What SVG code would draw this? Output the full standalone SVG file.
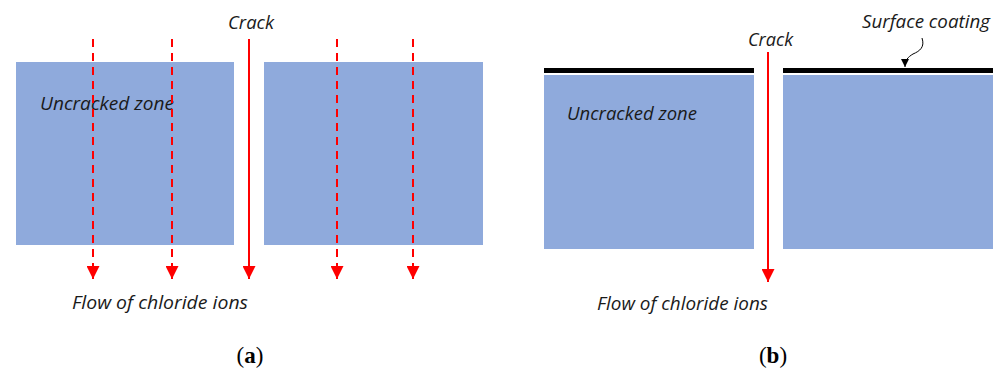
<svg xmlns="http://www.w3.org/2000/svg" width="1000" height="371" viewBox="0 0 1000 371">
<style>
.blk{fill:#8FAADC}
.coat{fill:#000}
.lbl{font-family:"Open Sans","Liberation Sans",sans-serif;font-style:italic;font-size:18px;fill:#1a1a1a}
.cap{font-family:"Liberation Serif",serif;font-size:23px;fill:#000}
.dash{stroke:#FF0000;stroke-width:2;stroke-dasharray:8,6;fill:none}
.solid{stroke:#FF0000;stroke-width:2;fill:none}
</style>
<defs>
<marker id="ah" markerWidth="13" markerHeight="13" viewBox="0 0 12 12" refX="12" refY="6" orient="auto" markerUnits="userSpaceOnUse">
<path d="M0,0 L12,6 L0,12 Z" fill="#FF0000"/>
</marker>
<marker id="bh" markerWidth="8" markerHeight="8" viewBox="0 0 8 8" refX="8" refY="4" orient="auto" markerUnits="userSpaceOnUse">
<path d="M0,0 L8,4 L0,8 Z" fill="#000"/>
</marker>
</defs>
<g id="panel-a">
<g id="a-left-block"><rect class="blk" x="16" y="62" width="218" height="183"/></g>
<g id="a-right-block"><rect class="blk" x="264" y="62" width="219" height="183"/></g>
<text class="lbl" x="40" y="110" textLength="134" lengthAdjust="spacingAndGlyphs">Uncracked zone</text>
<text class="lbl" x="228" y="29" textLength="46" lengthAdjust="spacingAndGlyphs">Crack</text>
<text class="lbl" x="72" y="309" textLength="176" lengthAdjust="spacingAndGlyphs">Flow of chloride ions</text>
<text class="cap" x="250" y="363" text-anchor="middle">(<tspan font-weight="bold">a</tspan>)</text>
</g>
<g id="panel-b">
<g id="b-left-block"><rect class="coat" x="544" y="68" width="210" height="5"/><rect class="blk" x="544" y="75" width="210" height="174"/></g>
<g id="b-right-block"><rect class="coat" x="783" y="68" width="210" height="5"/><rect class="blk" x="783" y="75" width="210" height="174"/></g>
<text class="lbl" x="567" y="120" textLength="130" lengthAdjust="spacingAndGlyphs">Uncracked zone</text>
<text class="lbl" x="748" y="46" textLength="45" lengthAdjust="spacingAndGlyphs">Crack</text>
<text class="lbl" x="862" y="28" textLength="128" lengthAdjust="spacingAndGlyphs">Surface coating</text>
<text class="lbl" x="597" y="310" textLength="171" lengthAdjust="spacingAndGlyphs">Flow of chloride ions</text>
<text class="cap" x="773" y="363" text-anchor="middle">(<tspan font-weight="bold">b</tspan>)</text>
</g>
<g id="connectors">
<line class="dash" x1="93" y1="39" x2="93" y2="279" marker-end="url(#ah)"/>
<line class="dash" x1="172" y1="39" x2="172" y2="279" marker-end="url(#ah)"/>
<line class="solid" x1="249" y1="39" x2="249" y2="279" marker-end="url(#ah)"/>
<line class="dash" x1="337" y1="39" x2="337" y2="279" marker-end="url(#ah)"/>
<line class="dash" x1="413" y1="39" x2="413" y2="279" marker-end="url(#ah)"/>
<line class="solid" x1="768" y1="52" x2="768" y2="282" marker-end="url(#ah)"/>
<path d="M922,38 C925,47 920,51 913,54 C908,57 905,60 905,67" stroke="#000" stroke-width="1" fill="none" marker-end="url(#bh)"/>
</g>
</svg>
